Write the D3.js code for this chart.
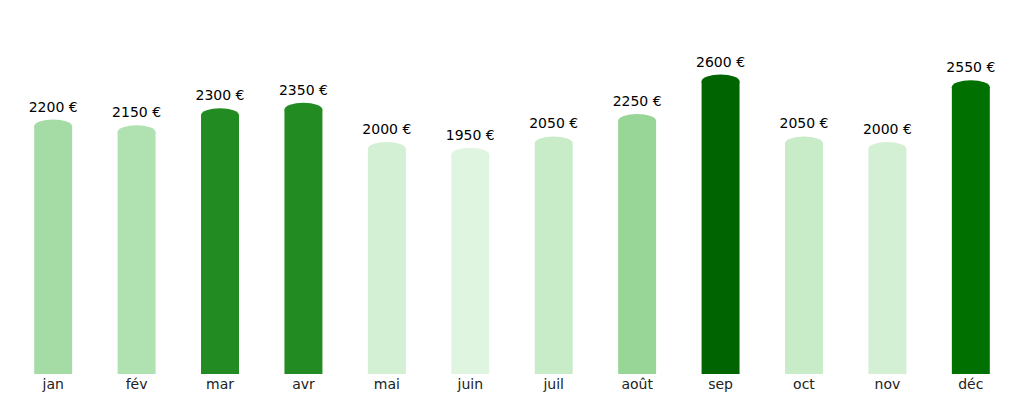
<!DOCTYPE html>
<html><head><meta charset="utf-8">
<script src="https://cdn.jsdelivr.net/npm/d3@7"></script>
<style>body{margin:0;background:#fff}text{font-family:"DejaVu Sans",sans-serif}</style>
</head><body><svg id="c" width="1024" height="404"></svg>
<script>
const months = ['jan','fév','mar','avr','mai','juin','juil','août','sep','oct','nov','déc'];
const values = [2200,2150,2300,2350,2000,1950,2050,2250,2600,2050,2000,2550];
const colors = ['#a5dba5','#b0e1b0','#228b22','#228b22','#d4f0d4','#dff5df','#c8ecc8','#98d698','#006400','#c8ecc8','#d4f0d4','#007000'];

const svg = d3.select('#c');
const base = 374, ry = 7;
const x = d3.scaleBand().domain(months).range([10, 1014]).paddingInner(0.545).paddingOuter(0.29);
const y = d3.scaleLinear().domain([0, 2600]).range([base, base - 292.5]);

const g = svg.selectAll('g.bar').data(months).join('g').attr('class','bar');
g.append('rect')
  .attr('x', d => x(d)).attr('width', x.bandwidth())
  .attr('y', (d,i) => y(values[i])).attr('height', (d,i) => base - y(values[i]))
  .attr('fill', (d,i) => colors[i]);
g.append('ellipse')
  .attr('cx', d => x(d) + x.bandwidth()/2).attr('cy', (d,i) => y(values[i]))
  .attr('rx', x.bandwidth()/2).attr('ry', ry)
  .attr('fill', (d,i) => colors[i]);
g.append('text')
  .attr('x', d => x(d) + x.bandwidth()/2).attr('y', (d,i) => y(values[i]) - ry - 8)
  .attr('text-anchor','middle').attr('font-size', 14).attr('fill','#000')
  .text((d,i) => values[i] + ' €');

svg.append('g').attr('transform', `translate(0,${base})`)
  .call(d3.axisBottom(x).tickSize(0).tickPadding(5))
  .call(a => a.select('.domain').remove())
  .call(a => a.selectAll('text').attr('font-size', 14).attr('fill','#222').style('font-family','"DejaVu Sans",sans-serif'));
</script></body></html>
